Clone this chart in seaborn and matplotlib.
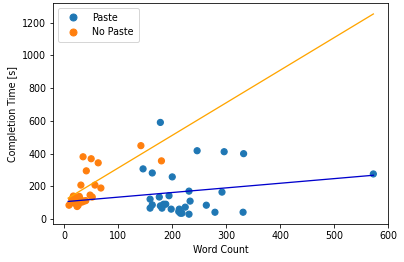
import numpy as np
import pandas as pd
import matplotlib
matplotlib.use("Agg")
import matplotlib.pyplot as plt
from matplotlib.lines import Line2D
import seaborn as sns

# Paste group (word count, completion time)
paste_words = [178, 246, 296, 332, 572, 146, 163, 200, 231, 292, 159, 176, 194, 233,
               263, 279, 331, 159, 163, 181, 184, 188, 198, 213, 215, 218, 224, 231,
               212, 178]
paste_time = [590, 417, 411, 399, 275, 306, 281, 257, 170, 164, 121, 134, 142, 109,
              84, 41, 41, 66, 86, 66, 90, 90, 60, 60, 35, 35, 72, 29,
              45, 80]

# No Paste group
nopaste_words = [142, 180, 35, 50, 63, 41, 31, 57, 68, 48, 52, 9, 17, 26, 33, 37,
                 22, 28, 18, 30, 24, 14, 40, 20]
nopaste_time = [448, 355, 380, 368, 343, 294, 207, 207, 189, 146, 134, 84, 140, 84,
                103, 109, 109, 138, 97, 121, 76, 120, 112, 130]

# Fitted trend lines (endpoints)
line_x = [7.4, 572]
paste_line_y = [107, 267]
nopaste_line_y = [127, 1253]

groups = ["Paste", "No Paste"]
colors = {"Paste": "#1f77b4", "No Paste": "#ff7f0e"}

df = pd.DataFrame({
    "Word Count": paste_words + nopaste_words,
    "Completion Time [s]": paste_time + nopaste_time,
    "group": ["Paste"] * len(paste_words) + ["No Paste"] * len(nopaste_words),
})

fs = 9.5
fig = plt.figure(figsize=(404 / 72, 262 / 72), dpi=72)
ax = fig.add_axes([0.132, 0.145, 0.8296, 0.8435])

sns.scatterplot(data=df, x="Word Count", y="Completion Time [s]", hue="group",
                hue_order=groups, palette=colors,
                s=36, edgecolor="face", linewidth=1.2, ax=ax, zorder=2, legend=False)
sns.lineplot(x=line_x, y=nopaste_line_y, color="orange", linewidth=1.3, ax=ax,
             legend=False, zorder=3)
sns.lineplot(x=line_x, y=paste_line_y, color="mediumblue", linewidth=1.3, ax=ax,
             legend=False, zorder=3)

ax.set_xlim(-20, 600)
ax.set_ylim(-31, 1320)
ax.set_xticks([0, 100, 200, 300, 400, 500, 600])
ax.set_yticks([0, 200, 400, 600, 800, 1000, 1200])
ax.set_xlabel("Word Count", fontsize=fs)
ax.set_ylabel("Completion Time [s]", fontsize=fs)
ax.tick_params(labelsize=fs)
handles = [Line2D([], [], marker="o", linestyle="", color=colors[g], markersize=7)
           for g in groups]
ax.legend(handles, groups, loc="upper left", fontsize=fs,
          handlelength=2.2, handletextpad=0.9, borderpad=0.5)

fig.savefig("out.png", dpi=72)
